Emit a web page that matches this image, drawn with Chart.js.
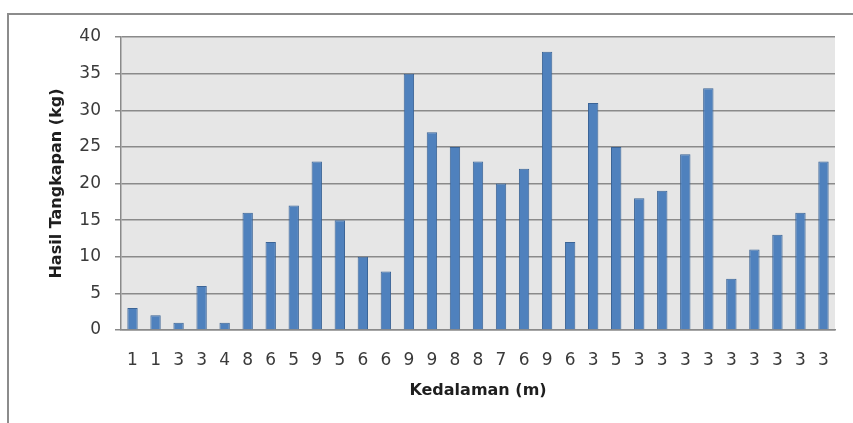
<!DOCTYPE html>
<html>
<head>
<meta charset="utf-8">
<script src="https://cdn.jsdelivr.net/npm/chart.js@4"></script>
<style>
  html, body { margin: 0; padding: 0; background: #fff; }
  #wrap { width: 853px; height: 423px; }
</style>
</head>
<body>
<div id="wrap"><canvas id="grafik"></canvas></div>
<script>
// Kedalaman (m) per pengamatan
const kedalaman = ['1','1','3','3','4','8','6','5','9','5','6','6','9','9','8','8','7','6','9','6','3','5','3','3','3','3','3','3','3','3','3'];
// Hasil tangkapan (kg)
const hasilTangkapan = [3,2,1,6,1,16,12,17,23,15,10,8,35,27,25,23,20,22,38,12,31,25,18,19,24,33,7,11,13,16,23];
const yMin = 0, yMax = 40, yStep = 5;

// frame and plot background
const latarPlot = {
  id: 'latarPlot',
  beforeDraw(chart) {
    const { ctx, chartArea: a } = chart;
    ctx.save();
    ctx.fillStyle = '#e6e6e6';
    ctx.fillRect(a.left, a.top, a.right - a.left, a.bottom - a.top);
    ctx.strokeStyle = '#8c8c8c';
    ctx.lineWidth = 2;
    ctx.beginPath();
    ctx.moveTo(8, 423);
    ctx.lineTo(8, 14);
    ctx.lineTo(853, 14);
    ctx.stroke();
    ctx.restore();
  }
};

const ctx = document.getElementById('grafik').getContext('2d');
new Chart(ctx, {
  type: 'bar',
  data: {
    labels: kedalaman,
    datasets: [{
      data: hasilTangkapan,
      backgroundColor: '#4f81bd',
      borderColor: '#3b6496',
      borderWidth: 1,
      barPercentage: 0.45,
      categoryPercentage: 1
    }]
  },
  options: {
    responsive: true,
    maintainAspectRatio: false,
    animation: false,
    layout: { padding: { top: 37, right: 18, bottom: 0, left: 0 } },
    plugins: { legend: { display: false }, tooltip: { enabled: false } },
    scales: {
      x: {
        grid: { display: false },
        border: { display: true, color: '#8a8a8a', width: 1.5 },
        ticks: {
          color: '#3a3a3a',
          padding: 12,
          maxRotation: 0,
          autoSkip: false,
          font: { family: 'DejaVu Sans', size: 17 }
        },
        title: {
          display: true,
          text: 'Kedalaman (m)',
          color: '#1e1e1e',
          padding: { top: 0, bottom: 23 },
          font: { family: 'DejaVu Sans', size: 16, weight: 'bold' }
        },
        afterFit(scale) { scale.height = 93; }
      },
      y: {
        min: yMin,
        max: yMax,
        grid: { color: '#8a8a8a', lineWidth: 1.5, tickLength: 6 },
        border: { display: true, color: '#8a8a8a', width: 1.5 },
        ticks: {
          stepSize: yStep,
          color: '#3a3a3a',
          padding: 14,
          font: { family: 'DejaVu Sans', size: 17 }
        },
        title: {
          display: true,
          text: 'Hasil Tangkapan (kg)',
          color: '#1e1e1e',
          padding: { top: 47, bottom: 0 },
          font: { family: 'DejaVu Sans', size: 16, weight: 'bold' }
        },
        afterFit(scale) { scale.width = 121; }
      }
    }
  },
  plugins: [latarPlot]
});
</script>
</body>
</html>
